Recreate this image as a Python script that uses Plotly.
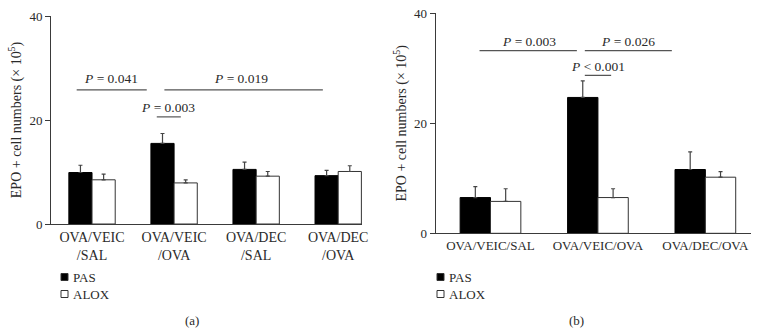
import plotly.graph_objects as go

W, H = 768, 333

# ---------------- data ----------------
cats_a = ["OVA/VEIC<br>/SAL", "OVA/VEIC<br>/OVA", "OVA/DEC<br>/SAL", "OVA/DEC<br>/OVA"]
pas_a = [9.9, 15.5, 10.5, 9.3]
pas_a_err = [1.4, 1.9, 1.4, 1.0]
alox_a = [8.5, 7.9, 9.2, 10.1]
alox_a_err = [1.1, 0.6, 0.9, 1.1]

cats_b = ["OVA/VEIC/SAL", "OVA/VEIC/OVA", "OVA/DEC/OVA"]
pas_b = [6.5, 24.7, 11.6]
pas_b_err = [2.0, 3.0, 3.2]
alox_b = [5.8, 6.5, 10.2]
alox_b_err = [2.3, 1.6, 1.0]

# significance brackets: (x0, x1, y, label, text_x, text_y)
sig_a = [(-0.187, 0.667, 25.8, "<i>P</i> = 0.041", 0.232, 27.9),
         (0.882, 2.813, 25.8, "<i>P</i> = 0.019", 1.813, 27.9),
         (0.789, 1.082, 20.6, "<i>P</i> = 0.003", 0.927, 22.5)]
sig_b = [(-0.102, 0.804, 33.2, "<i>P</i> = 0.003", 0.355, 34.8),
         (0.878, 1.688, 33.2, "<i>P</i> = 0.026", 1.283, 34.8),
         (0.878, 1.123, 28.7, "<i>P</i> < 0.001", 0.998, 30.4)]

y_ticks = [0, 20, 40]
series_names = ["PAS", "ALOX"]

FONT = "Liberation Serif, Times New Roman, serif"
AX = "#3a3a3a"
TXT = "#2a2a2a"
FS = 13

fig = go.Figure()


def add_bars(cats, pas, pas_err, alox, alox_err, xa, ya):
    xs = list(range(len(cats)))
    fig.add_trace(go.Bar(
        x=xs, y=pas, name=series_names[0], showlegend=False,
        marker=dict(color="black", line=dict(color="black", width=1)),
        error_y=dict(type="data", array=pas_err, arrayminus=[0] * len(pas),
                     symmetric=False, color="#444", thickness=1.2, width=2),
        xaxis=xa, yaxis=ya))
    fig.add_trace(go.Bar(
        x=xs, y=alox, name=series_names[1], showlegend=False,
        marker=dict(color="white", line=dict(color="#333", width=1)),
        error_y=dict(type="data", array=alox_err, arrayminus=[0] * len(alox),
                     symmetric=False, color="#444", thickness=1.2, width=2),
        xaxis=xa, yaxis=ya))


add_bars(cats_a, pas_a, pas_a_err, alox_a, alox_a_err, "x", "y")
add_bars(cats_b, pas_b, pas_b_err, alox_b, alox_b_err, "x2", "y2")

ytitle = "EPO + cell numbers (× 10<sup>5</sup>)"

common_x = dict(showline=True, linecolor=AX, linewidth=1, ticks="", showgrid=False,
                zeroline=False, automargin=False)
common_y = dict(showline=True, linecolor=AX, linewidth=1, ticks="outside", ticklen=5,
                tickcolor=AX, showgrid=False, zeroline=False, range=[0, 40],
                automargin=False,
                tickvals=y_ticks, tickfont=dict(family=FONT, size=FS, color=TXT),
                title=dict(text=ytitle, font=dict(family=FONT, size=14, color=TXT), standoff=4))

fig.update_layout(
    template="none",
    width=W, height=H, margin=dict(l=0, r=0, t=0, b=0, pad=0),
    paper_bgcolor="white", plot_bgcolor="white",
    barmode="group", bargap=0.435, bargroupgap=0,
    showlegend=False,
    xaxis=dict(domain=[51 / W, 362 / W], range=[-0.5, 3.29], tickvals=list(range(4)),
               ticktext=cats_a, anchor="y",
               tickfont=dict(family=FONT, size=14, color=TXT), **common_x),
    yaxis=dict(domain=[1 - 224 / H, 1 - 16 / H], anchor="x", **common_y),
    xaxis2=dict(domain=[435.7 / W, 750.7 / W], range=[-0.51, 2.422], tickvals=list(range(3)),
                ticktext=cats_b, anchor="y2",
                tickfont=dict(family=FONT, size=FS, color=TXT), **common_x),
    yaxis2=dict(domain=[1 - 233.3 / H, 1 - 13.3 / H], anchor="x2", **common_y),
)

shapes = []
annotations = []
for sig, xr, yr in [(sig_a, "x", "y"), (sig_b, "x2", "y2")]:
    for x0, x1, yv, lab, tx, ty in sig:
        shapes.append(dict(type="line", xref=xr, yref=yr, x0=x0, x1=x1, y0=yv, y1=yv,
                           line=dict(color="#555", width=1.2)))
        annotations.append(dict(xref=xr, yref=yr, x=tx, y=ty, text=lab, showarrow=False,
                                font=dict(family=FONT, size=13.5, color=TXT)))

# legends (one per panel) and panel labels
for lx, lab_panel in [(61, "(a)"), (437, "(b)")]:
    for i, (nm, fill) in enumerate(zip(series_names, ["black", "white"])):
        yc = 277 + 17 * i
        shapes.append(dict(type="rect", xref="paper", yref="paper",
                           x0=lx / W, x1=(lx + 7) / W,
                           y0=1 - (yc + 3.5) / H, y1=1 - (yc - 3.5) / H,
                           fillcolor=fill, line=dict(color="#333", width=1)))
        annotations.append(dict(xref="paper", yref="paper", x=(lx + 10) / W, y=1 - yc / H,
                                xanchor="left", yanchor="middle", text=nm, showarrow=False,
                                font=dict(family=FONT, size=FS, color=TXT)))
    cx = 192 if lab_panel == "(a)" else 576
    annotations.append(dict(xref="paper", yref="paper", x=cx / W, y=1 - 320 / H,
                            xanchor="center", yanchor="middle", text=lab_panel, showarrow=False,
                            font=dict(family=FONT, size=FS, color=TXT)))

fig.update_layout(shapes=shapes, annotations=annotations)
fig.write_html("out.html", config={"displayModeBar": False},
               post_script="document.body.style.margin='0';")
